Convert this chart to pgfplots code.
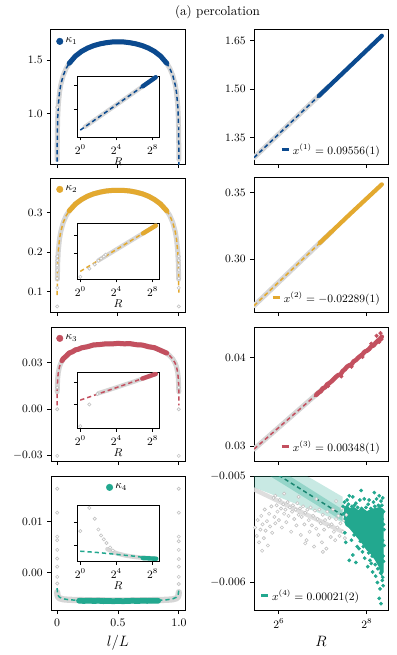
\documentclass[border=0pt]{standalone}
\usepackage{pgfplots}
\pgfplotsset{compat=1.18}
\definecolor{cA}{HTML}{0B4A8F}
\definecolor{cB}{HTML}{E3A92F}
\definecolor{cC}{HTML}{C3505F}
\definecolor{cD}{HTML}{22A88F}
\definecolor{gband}{HTML}{D6D6D6}
\definecolor{gcirc}{HTML}{C4C4C4}
\pgfplotsset{
  panel/.style={scale only axis, width=107.2pt, height=107.2pt, anchor=north west,
    axis line style={line width=0.8pt}, tick align=outside, xtick pos=bottom, ytick pos=left,
    major tick length=3.2pt, every tick/.append style={line width=0.8pt, black},
    tick label style={font=\fontsize{9.2}{11}\selectfont},
    scaled y ticks=false, scaled x ticks=false,
    yticklabel style={/pgf/number format/fixed, /pgf/number format/fixed zerofill},
    legend cell align=left},
  lpanel/.style={panel, xmin=-0.05, xmax=1.05, xtick={0,0.5,1}},
  rpanel/.style={panel, xmin=5.436, xmax=8.48, xtick={6,8}},
  inset/.style={scale only axis, width=65.6pt, height=45pt, anchor=north west,
    axis background/.style={fill=white},
    axis line style={line width=0.7pt}, tick align=outside, xtick pos=bottom, ytick pos=left,
    major tick length=2.6pt, every tick/.append style={line width=0.7pt, black},
    tick label style={font=\fontsize{9.2}{11}\selectfont},
    xmin=-0.36, xmax=8.7, xtick={0,4,8}, xticklabels={$2^{0}$,$2^{4}$,$2^{8}$},
    yticklabels={}, scaled y ticks=false,
    xlabel={$R$}, xlabel style={font=\fontsize{9.5}{11}\selectfont, inner sep=0pt, yshift=1pt}},
  kleg/.style={legend style={at={(0.03,0.97)}, anchor=north west, draw=none, fill=none,
    font=\fontsize{9.2}{11}\selectfont, inner sep=1pt}},
  xleg/.style={legend style={at={(0.97,0.03)}, anchor=south east, draw=none, fill=none,
    font=\fontsize{8.6}{10}\selectfont, inner sep=1pt}},
  dotlegend/.style={legend image code/.code={\draw[##1] plot coordinates {(0.1cm,0cm)};}},
  barlegend/.style={legend image code/.code={\draw[##1, line width=2.4pt] (0cm,0cm) -- (0.2cm,0cm);}},
  band/.style={gband, line width=4pt, line cap=round, line join=round},
  fitline/.style={line width=1.2pt, dash pattern=on 3.4pt off 2.4pt},
  dots/.style={line width=4pt, line cap=round, line join=round},
  circ/.style={only marks, mark=*, mark size=1.3pt, mark options={fill=white, draw=gcirc, line width=0.5pt}},
}
\begin{document}
\begin{tikzpicture}
\useasboundingbox (0,0) rectangle (317.6pt,-524pt);
\node[font=\fontsize{10.5}{12}\selectfont] at (174pt,-9.6pt) {(a) percolation};

% ---------- row 1 ----------
\begin{axis}[lpanel, at={(40.8pt,-24pt)}, ymin=0.53, ymax=1.78, ytick={1.0,1.5},
  xticklabels={}, yticklabel style={/pgf/number format/precision=1}, kleg]
\addlegendimage{only marks, mark=*, mark size=2.6pt, cA, dotlegend}
\addlegendentry{$\kappa_1$}
\addplot[band] coordinates {(0.0005,0.572)(0.001,0.690)(0.002,0.808)(0.005,0.964)(0.01,1.082)(0.02,1.199)(0.03,1.268)(0.05,1.355)(0.075,1.423)(0.1,1.470)(0.15,1.536)(0.2,1.580)(0.25,1.611)(0.3,1.634)(0.35,1.650)(0.4,1.661)(0.45,1.668)(0.5,1.670)(0.55,1.668)(0.6,1.661)(0.65,1.650)(0.7,1.634)(0.75,1.611)(0.8,1.580)(0.85,1.536)(0.9,1.470)(0.925,1.423)(0.95,1.355)(0.97,1.268)(0.98,1.199)(0.99,1.082)(0.995,0.964)(0.998,0.808)(0.999,0.690)(0.9995,0.572)};
\addplot[fitline, cA] coordinates {(0.0002,0.417)(0.0005,0.572)(0.001,0.690)(0.002,0.808)(0.005,0.964)(0.01,1.082)(0.02,1.199)(0.03,1.268)(0.05,1.355)(0.075,1.423)(0.1,1.470)(0.15,1.536)(0.2,1.580)(0.25,1.611)(0.3,1.634)(0.35,1.650)(0.4,1.661)(0.45,1.668)(0.5,1.670)(0.55,1.668)(0.6,1.661)(0.65,1.650)(0.7,1.634)(0.75,1.611)(0.8,1.580)(0.85,1.536)(0.9,1.470)(0.925,1.423)(0.95,1.355)(0.97,1.268)(0.98,1.199)(0.99,1.082)(0.995,0.964)(0.998,0.808)(0.999,0.690)(0.9995,0.572)(0.9998,0.417)};
\addplot[dots, cA] coordinates {(0.1,1.470)(0.15,1.536)(0.2,1.580)(0.25,1.611)(0.3,1.634)(0.35,1.650)(0.4,1.661)(0.45,1.668)(0.5,1.670)(0.55,1.668)(0.6,1.661)(0.65,1.650)(0.7,1.634)(0.75,1.611)(0.8,1.580)(0.85,1.536)(0.9,1.470)};
\addplot[circ] coordinates {(0.001,1.06)(0.999,0.89)};
\end{axis}
\begin{axis}[inset, at={(61.6pt,-60.8pt)}, height=48.8pt, ymin=0.44, ymax=1.69, ytick={1.0,1.5}]
\addplot[band, line width=3.5pt] coordinates {(0.5,0.646)(8.34,1.665)};
\addplot[fitline, cA] coordinates {(0,0.581)(8.34,1.665)};
\addplot[dots, cA, line width=3.5pt] coordinates {(6.9,1.478)(8.34,1.665)};
\end{axis}
\begin{axis}[rpanel, at={(203.2pt,-24pt)}, ymin=1.268, ymax=1.683, ytick={1.35,1.50,1.65},
  xticklabels={}, yticklabel style={/pgf/number format/precision=2}, xleg]
\addlegendimage{cA, barlegend}
\addlegendentry{$x^{(1)}=0.09556(1)$}
\addplot[band] coordinates {(5.436,1.2877)(7.1,1.504)};
\addplot[fitline, cA] coordinates {(5.436,1.2877)(8.34,1.665)};
\addplot[dots, cA, line width=3.4pt] coordinates {(6.91,1.479)(8.34,1.665)};
\end{axis}

% ---------- row 2 ----------
\begin{axis}[lpanel, at={(40.8pt,-142.4pt)}, ymin=0.049, ymax=0.388, ytick={0.1,0.2,0.3},
  xticklabels={}, yticklabel style={/pgf/number format/precision=1}, kleg]
\addlegendimage{only marks, mark=*, mark size=2.6pt, cB, dotlegend}
\addlegendentry{$\kappa_2$}
\addplot[band] coordinates {(0.002,0.132)(0.005,0.173)(0.01,0.204)(0.02,0.234)(0.03,0.252)(0.05,0.275)(0.075,0.293)(0.1,0.305)(0.15,0.322)(0.2,0.3335)(0.25,0.342)(0.3,0.348)(0.35,0.352)(0.4,0.355)(0.45,0.3565)(0.5,0.357)(0.55,0.3565)(0.6,0.355)(0.65,0.352)(0.7,0.348)(0.75,0.342)(0.8,0.3335)(0.85,0.322)(0.9,0.305)(0.925,0.293)(0.95,0.275)(0.97,0.252)(0.98,0.234)(0.99,0.204)(0.995,0.173)(0.998,0.132)};
\addplot[circ] coordinates {(0.001,0.063)(0.001,0.110)(0.001,0.134)(0.001,0.155)(0.001,0.167)(0.001,0.180)(0.001,0.190)(0.999,0.063)(0.999,0.110)(0.999,0.134)(0.999,0.155)(0.999,0.167)(0.999,0.180)(0.999,0.190)};
\addplot[fitline, cB] coordinates {(0.0008,0.092)(0.001,0.102)(0.002,0.132)(0.005,0.173)(0.01,0.204)(0.02,0.234)(0.03,0.252)(0.05,0.275)(0.075,0.293)(0.1,0.305)(0.15,0.322)(0.2,0.3335)(0.25,0.342)(0.3,0.348)(0.35,0.352)(0.4,0.355)(0.45,0.3565)(0.5,0.357)(0.55,0.3565)(0.6,0.355)(0.65,0.352)(0.7,0.348)(0.75,0.342)(0.8,0.3335)(0.85,0.322)(0.9,0.305)(0.925,0.293)(0.95,0.275)(0.97,0.252)(0.98,0.234)(0.99,0.204)(0.995,0.173)(0.998,0.132)(0.999,0.102)(0.9992,0.092)};
\addplot[dots, cB] coordinates {(0.1,0.305)(0.15,0.322)(0.2,0.3335)(0.25,0.342)(0.3,0.348)(0.35,0.352)(0.4,0.355)(0.45,0.3565)(0.5,0.357)(0.55,0.3565)(0.6,0.355)(0.65,0.352)(0.7,0.348)(0.75,0.342)(0.8,0.3335)(0.85,0.322)(0.9,0.305)};
\end{axis}
\begin{axis}[inset, at={(61.6pt,-178.4pt)}, ymin=0.049, ymax=0.372, ytick={0.2,0.3}]
\addplot[band, line width=3.5pt] coordinates {(2,0.157)(8.34,0.357)};
\addplot[circ] coordinates {(0,0.063)(1,0.110)(1.6,0.134)(2,0.155)(2.3,0.167)(2.6,0.180)(2.8,0.190)};
\addplot[fitline, cB] coordinates {(0,0.094)(8.34,0.357)};
\addplot[dots, cB, line width=3.5pt] coordinates {(6.93,0.312)(8.34,0.357)};
\end{axis}
\begin{axis}[rpanel, at={(203.2pt,-142.4pt)}, ymin=0.2605, ymax=0.361, ytick={0.30,0.35},
  xticklabels={}, yticklabel style={/pgf/number format/precision=2}, xleg]
\addlegendimage{cB, barlegend}
\addlegendentry{$x^{(2)}=-0.02289(1)$}
\addplot[band] coordinates {(5.436,0.2652)(7.2,0.3208)};
\addplot[fitline, cB] coordinates {(5.436,0.2652)(8.34,0.3567)};
\addplot[dots, cB, line width=3.4pt] coordinates {(6.93,0.3123)(7.6,0.3334)(8.34,0.3562)};
\end{axis}

% ---------- row 3 ----------
\begin{axis}[lpanel, at={(40.8pt,-261.6pt)}, ymin=-0.0333, ymax=0.0529, ytick={-0.03,0,0.03},
  xticklabels={}, yticklabel style={/pgf/number format/precision=2}, kleg]
\addlegendimage{only marks, mark=*, mark size=2.6pt, cC, dotlegend}
\addlegendentry{$\kappa_3$}
\addplot[band] coordinates {(0.001,0.0112)(0.002,0.0149)(0.005,0.0199)(0.01,0.0236)(0.02,0.0274)(0.03,0.0295)(0.05,0.0323)(0.075,0.0344)(0.1,0.0360)(0.15,0.0380)(0.2,0.0394)(0.25,0.0404)(0.3,0.0412)(0.35,0.0417)(0.4,0.0420)(0.45,0.0422)(0.5,0.0423)(0.55,0.0422)(0.6,0.0420)(0.65,0.0417)(0.7,0.0412)(0.75,0.0404)(0.8,0.0394)(0.85,0.0380)(0.9,0.0360)(0.925,0.0344)(0.95,0.0323)(0.97,0.0295)(0.98,0.0274)(0.99,0.0236)(0.995,0.0199)(0.998,0.0149)(0.999,0.0112)};
\addplot[circ] coordinates {(0.001,-0.030)(0.001,0.000)(0.001,0.014)(0.999,-0.030)(0.999,0.000)(0.999,0.014)};
\addplot[fitline, cC] coordinates {(0.0002,0.0025)(0.0005,0.0074)(0.001,0.0112)(0.002,0.0149)(0.005,0.0199)(0.01,0.0236)(0.02,0.0274)(0.03,0.0295)(0.05,0.0323)(0.075,0.0344)(0.1,0.0360)(0.15,0.0380)(0.2,0.0394)(0.25,0.0404)(0.3,0.0412)(0.35,0.0417)(0.4,0.0420)(0.45,0.0422)(0.5,0.0423)(0.55,0.0422)(0.6,0.0420)(0.65,0.0417)(0.7,0.0412)(0.75,0.0404)(0.8,0.0394)(0.85,0.0380)(0.9,0.0360)(0.925,0.0344)(0.95,0.0323)(0.97,0.0295)(0.98,0.0274)(0.99,0.0236)(0.995,0.0199)(0.998,0.0149)(0.999,0.0112)(0.9995,0.0074)(0.9998,0.0025)};
\addplot[dots, cC] coordinates {(0.04,0.0312)(0.05,0.0325)(0.075,0.0342)(0.1,0.0362)(0.125,0.0369)(0.15,0.0382)(0.175,0.0386)(0.2,0.0395)(0.25,0.0402)(0.3,0.0414)(0.35,0.0416)(0.4,0.0421)(0.45,0.0420)(0.5,0.0424)(0.55,0.0421)(0.6,0.0422)(0.65,0.0415)(0.7,0.0413)(0.75,0.0402)(0.8,0.0396)(0.85,0.0378)(0.9,0.0361)};
\end{axis}
\begin{axis}[inset, at={(61.6pt,-297.6pt)}, ymin=-0.033, ymax=0.045, ytick={0,0.03}]
\addplot[band, line width=3.5pt] coordinates {(2,0.0155)(3,0.0195)(4,0.0236)(6,0.0320)(8.34,0.0423)};
\addplot[circ] coordinates {(0,-0.030)(1,0.000)(1.9,0.0145)};
\addplot[fitline, cC] coordinates {(0,0.0060)(8.34,0.0423)};
\addplot[dots, cC, line width=3.5pt] coordinates {(6.85,0.0358)(8.34,0.0423)};
\end{axis}
\begin{axis}[rpanel, at={(203.2pt,-261.6pt)}, ymin=0.0283, ymax=0.0435, ytick={0.03,0.04},
  xticklabels={}, yticklabel style={/pgf/number format/precision=2}, xleg]
\addlegendimage{cC, barlegend}
\addlegendentry{$x^{(3)}=0.00348(1)$}
\addplot[band] coordinates {(5.436,0.02965)(7.0,0.03650)};
\addplot[fitline, cC] coordinates {(5.436,0.02965)(8.34,0.0423)};
\addplot[dots, cC, line width=3.6pt] coordinates {(6.85,0.03580)(6.90,0.03605)(6.95,0.03620)(7.00,0.03655)(7.05,0.03665)(7.10,0.03700)(7.15,0.03715)(7.20,0.03735)(7.25,0.03760)(7.30,0.03785)(7.35,0.03805)(7.40,0.03810)(7.45,0.03850)(7.50,0.03870)(7.55,0.03900)(7.60,0.03915)(7.65,0.03925)(7.70,0.03960)(7.75,0.03975)(7.80,0.04000)(7.85,0.04020)(7.90,0.04040)(7.95,0.04070)(8.00,0.04080)(8.05,0.04100)(8.10,0.04130)(8.15,0.04140)(8.20,0.04170)(8.25,0.04195)(8.30,0.04215)(8.34,0.04240)};
\addplot[only marks, mark=*, mark size=1.5pt, cC] coordinates {(7.12,0.0368)(7.42,0.0379)(7.65,0.0390)(7.9,0.0401)(8.1,0.0416)(8.22,0.0425)(8.28,0.0418)(8.31,0.0428)(8.33,0.0421)};
\end{axis}

% ---------- row 4 ----------
\begin{axis}[lpanel, at={(40.8pt,-380.8pt)}, ymin=-0.0073, ymax=0.019, ytick={0,0.01},
  xticklabels={0,0.5,1.0}, yticklabel style={/pgf/number format/precision=2},
  legend style={at={(0.5,0.97)}, anchor=north, draw=none, fill=none,
    font=\fontsize{9.2}{11}\selectfont, inner sep=1pt},
  xlabel={$l/L$}, xlabel style={font=\fontsize{12}{14}\selectfont}]
\addlegendimage{only marks, mark=*, mark size=2.6pt, cD, dotlegend}
\addlegendentry{$\kappa_4$}
\addplot[band, line width=5pt] coordinates {(0.0005,-0.0038)(0.005,-0.0046)(0.02,-0.0050)(0.05,-0.0052)(0.1,-0.0053)(0.3,-0.0054)(0.5,-0.00542)(0.7,-0.0054)(0.9,-0.0053)(0.95,-0.0052)(0.98,-0.0050)(0.995,-0.0046)(0.9995,-0.0038)};
\addplot[circ] coordinates {(0.001,0.0165)(0.001,0.0118)(0.001,0.0071)(0.001,0.0064)(0.001,0.0045)(0.001,0.0028)(0.001,0.0012)(0.001,-0.0008)(0.001,-0.0021)(0.999,0.0165)(0.999,0.0118)(0.999,0.0071)(0.999,0.0062)(0.999,0.0045)(0.999,0.0027)(0.999,0.0012)(0.999,-0.0008)(0.999,-0.0022)};
\addplot[fitline, cD] coordinates {(0.0002,-0.0030)(0.002,-0.0036)(0.005,-0.0041)(0.01,-0.0045)(0.02,-0.0048)(0.05,-0.0051)(0.1,-0.0053)(0.2,-0.00542)(0.3,-0.00547)(0.5,-0.0055)(0.7,-0.00547)(0.8,-0.00542)(0.9,-0.0053)(0.95,-0.0051)(0.98,-0.0048)(0.99,-0.0045)(0.995,-0.0041)(0.998,-0.0036)(0.9998,-0.0030)};
\addplot[dots, cD, line width=4.6pt] coordinates {(0.18,-0.00548)(0.22,-0.00552)(0.26,-0.00546)(0.30,-0.00553)(0.34,-0.00549)(0.38,-0.00556)(0.42,-0.00551)(0.46,-0.00558)(0.50,-0.00552)(0.54,-0.00557)(0.58,-0.00553)(0.62,-0.00549)(0.66,-0.00554)(0.70,-0.00548)(0.74,-0.00551)(0.78,-0.00546)(0.83,-0.00549)};
\end{axis}
\begin{axis}[inset, at={(61.6pt,-404pt)}, ymin=-0.0068, ymax=0.0178, ytick={0,0.01}]
\addplot[band, line width=3.5pt] coordinates {(3,-0.0015)(4,-0.0033)(5,-0.0043)(6,-0.0049)(7,-0.0053)(8.34,-0.0056)};
\addplot[circ] coordinates {(0,0.0064)(1,0.0165)(1.6,0.0118)(2,0.0071)(2.3,0.0045)(2.6,0.0028)(2.9,0.0012)(3.3,-0.0008)(3.6,-0.0021)};
\addplot[fitline, cD] coordinates {(0,-0.0024)(2,-0.0030)(4,-0.0038)(6,-0.0046)(7.45,-0.00537)(8.34,-0.0056)};
\addplot[dots, cD, line width=3.5pt] coordinates {(6.9,-0.0054)(8.4,-0.0057)};
\end{axis}
\begin{axis}[rpanel, at={(203.2pt,-380.8pt)}, ymin=-0.00626, ymax=-0.004993, ytick={-0.006,-0.005},
  xticklabels={$2^{6}$,$2^{8}$}, yticklabel style={/pgf/number format/precision=3},
  legend style={at={(0.03,0.03)}, anchor=south west, draw=none, fill=none,
    font=\fontsize{8.6}{10}\selectfont, inner sep=1pt},
  xlabel={$R$}, xlabel style={font=\fontsize{12}{14}\selectfont}]
\addlegendimage{cD, barlegend}
\addlegendentry{$x^{(4)}=0.00021(2)$}
\addplot[circ] coordinates {(5.46,-0.00548)(5.50,-0.00556)(5.52,-0.00541)(5.55,-0.00562)(5.58,-0.00550)(5.60,-0.00537)(5.62,-0.00570)(5.63,-0.00545)(5.66,-0.00558)(5.68,-0.00531)(5.70,-0.00551)(5.73,-0.00542)(5.75,-0.00565)(5.78,-0.00535)(5.80,-0.00547)(5.83,-0.00528)(5.85,-0.00553)(5.88,-0.00520)(5.90,-0.00538)(5.92,-0.00544)(5.92,-0.00518)(5.95,-0.00527)(5.97,-0.00533)(6.00,-0.00541)(6.02,-0.00522)(6.05,-0.00530)(6.07,-0.00548)(6.10,-0.00526)(6.12,-0.00535)(6.12,-0.00516)(6.15,-0.00531)(6.17,-0.00543)(6.20,-0.00524)(6.22,-0.00537)(6.25,-0.00529)(6.28,-0.00552)(6.30,-0.00533)(6.32,-0.00527)(6.35,-0.00540)(6.38,-0.00531)(6.40,-0.00546)(6.42,-0.00525)(6.45,-0.00536)(6.45,-0.00519)(6.48,-0.00530)(6.50,-0.00555)(6.52,-0.00538)(6.55,-0.00528)(6.58,-0.00545)(6.60,-0.00534)(6.60,-0.00563)(6.63,-0.00560)(6.65,-0.00531)(6.68,-0.00541)(6.70,-0.00552)(6.72,-0.00529)(6.75,-0.00546)(6.78,-0.00537)(6.80,-0.00566)(6.82,-0.00532)(6.85,-0.00549)(6.85,-0.00521)(6.88,-0.00540)(6.90,-0.00555)(6.92,-0.00531)(6.95,-0.00544)(6.98,-0.00562)(7.00,-0.00536)(7.00,-0.00571)(7.03,-0.00550)(7.05,-0.00541)(7.08,-0.00568)(7.10,-0.00533)(7.13,-0.00547)(7.15,-0.00539)(7.18,-0.00557)(7.20,-0.00545)(7.23,-0.00531)(7.25,-0.00552)(7.28,-0.00560)(7.30,-0.00540)(7.30,-0.00523)(7.33,-0.00548)(7.35,-0.00537)(7.38,-0.00556)(7.40,-0.00544)(7.43,-0.00530)(7.45,-0.00552)(7.48,-0.00541)(7.50,-0.00558)(7.53,-0.00536)};
\addplot[gband, line width=3.5pt, line cap=round, opacity=0.8] coordinates {(5.436,-0.00512)(7.45,-0.00552)};
\addplot[fill=cD, fill opacity=0.25, draw=none] coordinates {(5.436,-0.00470)(7.45,-0.00519)(7.45,-0.00543)(5.436,-0.00510)};
\addplot[fill=cD, fill opacity=0.3, draw=none] coordinates {(5.436,-0.00478)(7.45,-0.00531)(7.45,-0.00542)(5.436,-0.00490)};
\addplot[fitline, cD!80!black] coordinates {(5.436,-0.00484)(7.45,-0.005365)};
\addplot[fill=cD, draw=cD, line width=0.8pt] coordinates {(7.48,-0.00530)(7.55,-0.00527)(7.62,-0.00531)(7.70,-0.00529)(7.80,-0.00532)(7.90,-0.00530)(8.00,-0.00533)(8.10,-0.00531)(8.20,-0.00530)(8.30,-0.00529)(8.37,-0.00531)(8.37,-0.00590)(8.33,-0.00593)(8.28,-0.00585)(8.20,-0.00579)(8.10,-0.00573)(8.00,-0.00569)(7.90,-0.00563)(7.80,-0.00558)(7.70,-0.00553)(7.60,-0.00548)(7.53,-0.00546)(7.48,-0.00541)};
\addplot[only marks, mark=*, mark size=1.3pt, cD] coordinates {(7.46,-0.00528)(7.49,-0.00524)(7.50,-0.00553)(7.52,-0.00562)(7.55,-0.00522)(7.57,-0.00545)(7.60,-0.00518)(7.60,-0.00579)(7.63,-0.00531)(7.65,-0.00560)(7.68,-0.00519)(7.68,-0.00574)(7.72,-0.00527)(7.75,-0.00525)(7.75,-0.00581)(7.78,-0.00566)(7.82,-0.00568)(7.84,-0.00522)(7.87,-0.00513)(7.90,-0.00571)(7.94,-0.00521)(7.95,-0.00577)(7.98,-0.00529)(8.02,-0.00585)(8.05,-0.00522)(8.07,-0.00579)(8.10,-0.00582)(8.13,-0.00590)(8.15,-0.00524)(8.17,-0.00515)(8.20,-0.00594)(8.22,-0.00521)(8.24,-0.00600)(8.26,-0.00527)(8.28,-0.00518)(8.28,-0.00615)(8.30,-0.00606)(8.32,-0.00523)(8.32,-0.00620)(8.34,-0.00535)(8.35,-0.00598)(8.36,-0.00520)(8.37,-0.00603)(8.38,-0.00545)(8.38,-0.00580)(8.36,-0.00560)(8.33,-0.00590)
(7.47,-0.00535)(7.51,-0.00540)(7.58,-0.00526)(7.66,-0.00528)(7.71,-0.00555)(7.74,-0.00533)(7.79,-0.00529)(7.85,-0.00561)(7.88,-0.00530)(7.92,-0.00566)(7.97,-0.00534)(8.03,-0.00526)(8.04,-0.00572)(8.09,-0.00530)(8.12,-0.00575)(8.18,-0.00528)(8.19,-0.00583)(8.23,-0.00533)(8.25,-0.00587)(8.29,-0.00528)(8.31,-0.00591)(8.34,-0.00527)(8.36,-0.00595)(8.38,-0.00533)(8.39,-0.00565)(8.39,-0.00550)(8.37,-0.00575)(8.35,-0.00540)};
\end{axis}
\end{tikzpicture}
\end{document}
